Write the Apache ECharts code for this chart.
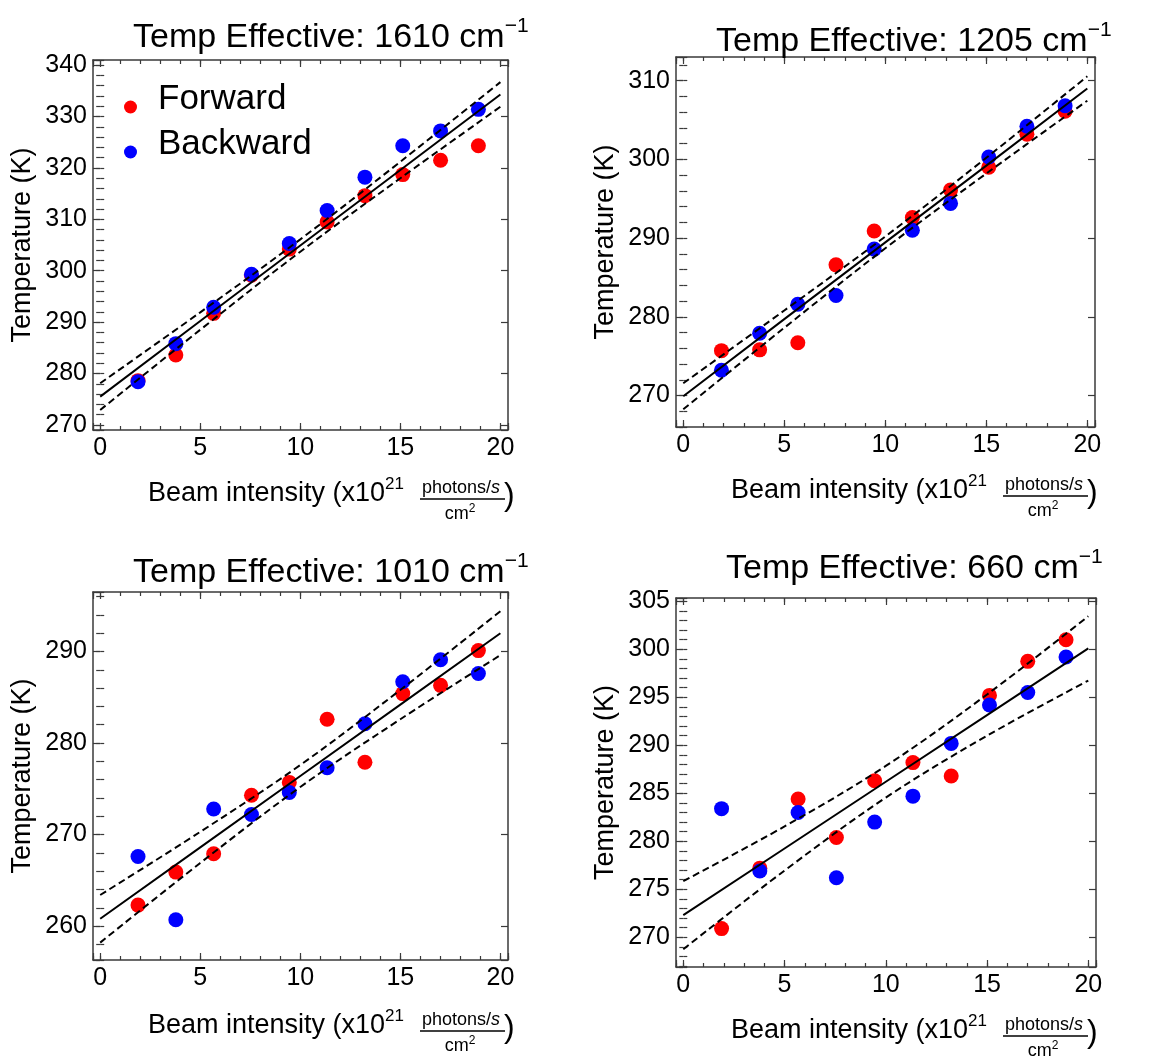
<!DOCTYPE html>
<html><head><meta charset="utf-8">
<script src="https://cdn.jsdelivr.net/npm/echarts/dist/echarts.min.js"></script>
<style>html,body{margin:0;padding:0;background:#fff}#chart{width:1155px;height:1057px}</style>
</head><body><div id="chart"></div>
<script>
// ---- data ----
const xValues = [1.89, 3.78, 5.67, 7.56, 9.45, 11.34, 13.23, 15.12, 17.01, 18.9];
const bandX = [0, 5, 10, 15, 20];
const xTicks = [0, 5, 10, 15, 20];

const fwd1610 = [278.6, 283.6, 291.7, 299.1, 304.2, 309.5, 314.6, 318.7, 321.5, 324.3];
const bwd1610 = [278.4, 285.8, 292.9, 299.3, 305.3, 311.7, 318.2, 324.3, 327.2, 331.4];
const fit1610 = [275.5, 290.2, 304.9, 319.6, 334.3];
const upper1610 = [278.1, 291.9, 306.1, 321.2, 336.7];
const lower1610 = [272.9, 288.5, 303.7, 318.0, 331.9];

const fwd1205 = [275.7, 275.8, 276.7, 286.6, 290.9, 292.6, 296.1, 299.0, 303.2, 306.1];
const bwd1205 = [273.2, 277.9, 281.6, 282.7, 288.6, 291.0, 294.4, 300.3, 304.2, 306.8];
const fit1205 = [269.9, 279.7, 289.45, 299.2, 309.0];
const upper1205 = [271.55, 280.8, 290.2, 300.2, 310.55];
const lower1205 = [268.25, 278.6, 288.7, 298.2, 307.45];

const fwd1010 = [262.3, 265.9, 267.9, 274.3, 275.7, 282.6, 277.9, 285.4, 286.3, 290.1];
const bwd1010 = [267.6, 260.7, 272.8, 272.2, 274.6, 277.3, 282.1, 286.7, 289.1, 287.6];
const fit1010 = [260.8, 268.6, 276.4, 284.2, 292.0];
const upper1010 = [263.4, 270.3, 277.6, 285.8, 294.4];
const lower1010 = [258.2, 266.9, 275.2, 282.6, 289.6];

const fwd660 = [270.9, 277.2, 284.4, 280.4, 286.3, 288.2, 286.8, 295.2, 298.75, 301.0];
const bwd660 = [283.4, 276.9, 283.0, 276.2, 282.0, 284.7, 290.2, 294.2, 295.5, 299.2];
const fit660 = [272.3, 279.25, 286.2, 293.15, 300.1];
const upper660 = [275.85, 281.55, 287.85, 295.3, 303.45];
const lower660 = [268.75, 276.95, 284.55, 291.0, 296.75];

const titles = ['1610', '1205', '1010', '660'];
const seriesNames = ['Forward', 'Backward'];

// ---- layout / style ----
const FONT = 'Liberation Sans, Arial, sans-serif';
const FRAME = '#3a3a3a';
const RED = '#ff0000', BLUE = '#0000ff';
const xRange = [-0.36, 20.38];

const panels = [
  {fwd: fwd1610, bwd: bwd1610, fit: fit1610, up: upper1610, lo: lower1610,
   grid: {left: 93, top: 60, width: 415, height: 370}, y: [269, 341], ySplit: 7, yMinorSplit: 36, yStep: 10,
   title: {left: 128, top: 11}, name: {x: 148, y: 494}},
  {fwd: fwd1205, bwd: bwd1205, fit: fit1205, up: upper1205, lo: lower1205,
   grid: {left: 676, top: 57, width: 419, height: 370}, y: [266, 313], ySplit: 5, yMinorSplit: 24, yStep: 10,
   title: {left: 711, top: 15}, name: {x: 731, y: 491}},
  {fwd: fwd1010, bwd: bwd1010, fit: fit1010, up: upper1010, lo: lower1010,
   grid: {left: 93, top: 592, width: 415, height: 368}, y: [256.3, 296.5], ySplit: 4, yMinorSplit: 20, yStep: 10,
   title: {left: 128, top: 546}, name: {x: 148, y: 1026}},
  {fwd: fwd660, bwd: bwd660, fit: fit660, up: upper660, lo: lower660,
   grid: {left: 676, top: 598, width: 420, height: 369}, y: [266.9, 305.35], ySplit: 8, yMinorSplit: 38, yStep: 5,
   title: {left: 721, top: 542}, name: {x: 731, y: 1031}}
];

function stepFmt(step) {
  return function (v) {
    const r = v / step;
    return Math.abs(r - Math.round(r)) < 1e-6 ? String(Math.round(v)) : '';
  };
}

const grids = [], xAxes = [], yAxes = [], series = [], titleList = [], graphics = [];

panels.forEach((p, i) => {
  grids.push(Object.assign({containLabel: false}, p.grid));
  const base = 4 * i;
  const xCommon = {gridIndex: i, type: 'value', min: xRange[0], max: xRange[1], splitLine: {show: false}};
  xAxes.push(Object.assign({}, xCommon, {position: 'bottom', splitNumber: 4,
    axisLine: {show: true, onZero: false, lineStyle: {color: FRAME, width: 1.5}},
    axisTick: {show: true, inside: true, length: 7, lineStyle: {color: FRAME, width: 1.2}},
    axisLabel: {show: true, fontSize: 25, fontFamily: FONT, color: '#000', margin: 6,
      formatter: stepFmt(5)}}));
  xAxes.push(Object.assign({}, xCommon, {position: 'bottom', splitNumber: 21,
    axisLine: {show: false}, axisLabel: {show: false},
    axisTick: {show: true, inside: true, length: 4, lineStyle: {color: FRAME, width: 1.2}}}));
  xAxes.push(Object.assign({}, xCommon, {position: 'top', splitNumber: 4,
    axisLine: {show: true, onZero: false, lineStyle: {color: FRAME, width: 1.5}},
    axisTick: {show: true, inside: true, length: 7, lineStyle: {color: FRAME, width: 1.2}},
    axisLabel: {show: false}}));
  xAxes.push(Object.assign({}, xCommon, {position: 'top', splitNumber: 21,
    axisLine: {show: false}, axisLabel: {show: false},
    axisTick: {show: true, inside: true, length: 4, lineStyle: {color: FRAME, width: 1.2}}}));
  const yCommon = {gridIndex: i, type: 'value', min: p.y[0], max: p.y[1], splitLine: {show: false}};
  yAxes.push(Object.assign({}, yCommon, {position: 'left', splitNumber: p.ySplit,
    axisLine: {show: true, onZero: false, lineStyle: {color: FRAME, width: 1.5}},
    axisTick: {show: true, inside: true, length: 7, lineStyle: {color: FRAME, width: 1.2}},
    axisLabel: {show: true, fontSize: 25, fontFamily: FONT, color: '#000', margin: 6,
      formatter: stepFmt(p.yStep)},
    name: 'Temperature (K)', nameLocation: 'middle', nameRotate: 90, nameGap: 57,
    nameTextStyle: {fontSize: 27, fontFamily: FONT, color: '#000'}}));
  yAxes.push(Object.assign({}, yCommon, {position: 'left', splitNumber: p.yMinorSplit,
    axisLine: {show: false}, axisLabel: {show: false},
    axisTick: {show: true, inside: true, length: 4, lineStyle: {color: FRAME, width: 1.2}}}));
  yAxes.push(Object.assign({}, yCommon, {position: 'right', splitNumber: p.ySplit,
    axisLine: {show: true, onZero: false, lineStyle: {color: FRAME, width: 1.5}},
    axisTick: {show: true, inside: true, length: 7, lineStyle: {color: FRAME, width: 1.2}},
    axisLabel: {show: false}}));
  yAxes.push(Object.assign({}, yCommon, {position: 'right', splitNumber: p.yMinorSplit,
    axisLine: {show: false}, axisLabel: {show: false},
    axisTick: {show: true, inside: true, length: 4, lineStyle: {color: FRAME, width: 1.2}}}));

  const scat = (name, vals, color) => ({
    type: 'scatter', name: name, xAxisIndex: base, yAxisIndex: base,
    data: xValues.map((x, k) => [x, vals[k]]), symbol: 'circle', symbolSize: 15,
    itemStyle: {color: color, opacity: 1}, z: 2, silent: true
  });
  series.push(scat(seriesNames[0], p.fwd, RED));
  series.push(scat(seriesNames[1], p.bwd, BLUE));
  const ln = (vals, dashed) => ({
    type: 'line', xAxisIndex: base, yAxisIndex: base,
    data: bandX.map((x, k) => [x, vals[k]]), symbol: 'none', showSymbol: false,
    smooth: dashed ? 0.35 : false, z: 3, silent: true,
    lineStyle: {color: '#000', width: 2, type: dashed ? [7, 4] : 'solid'}
  });
  series.push(ln(p.fit, false));
  series.push(ln(p.up, true));
  series.push(ln(p.lo, true));

  titleList.push({
    text: 'Temp Effective: ' + titles[i] + ' cm{sup|\u22121}',
    left: p.title.left, top: p.title.top,
    textStyle: {fontSize: 34, fontWeight: 'normal', fontFamily: FONT, color: '#000',
      rich: {sup: {fontSize: 21, fontFamily: FONT, color: '#000', padding: [0, 0, 22, 0]}}}
  });

  const nx = p.name.x, ny = p.name.y;
  graphics.push({type: 'text', x: nx, y: ny, silent: true, style: {
    text: 'Beam intensity (x10{sup|21}', fill: '#000', fontSize: 27, fontFamily: FONT,
    align: 'left', verticalAlign: 'middle', textAlign: 'left', textVerticalAlign: 'middle',
    rich: {sup: {fontSize: 17, fontFamily: FONT, fill: '#000', padding: [0, 0, 19, 0]}}}});
  graphics.push({type: 'text', x: nx + 313, y: ny - 6, silent: true, style: {
    text: 'photons/{i|s}', fill: '#000', fontSize: 18, fontFamily: FONT,
    align: 'center', verticalAlign: 'middle', textAlign: 'center', textVerticalAlign: 'middle',
    rich: {i: {fontStyle: 'italic', fontSize: 18, fontFamily: FONT, fill: '#000'}}}});
  graphics.push({type: 'line', silent: true, shape: {x1: nx + 272, y1: ny + 5, x2: nx + 357, y2: ny + 5},
    style: {stroke: '#000', lineWidth: 1.3}});
  graphics.push({type: 'text', x: nx + 312, y: ny + 20, silent: true, style: {
    text: 'cm{sup|2}', fill: '#000', fontSize: 18, fontFamily: FONT,
    align: 'center', verticalAlign: 'middle', textAlign: 'center', textVerticalAlign: 'middle',
    rich: {sup: {fontSize: 12, fontFamily: FONT, fill: '#000', padding: [0, 0, 10, 0]}}}});
  graphics.push({type: 'text', x: nx + 356, y: ny + 2, silent: true, style: {
    text: ')', fill: '#000', fontSize: 32, fontFamily: FONT,
    align: 'left', verticalAlign: 'middle', textAlign: 'left', textVerticalAlign: 'middle'}});
});

const chart = echarts.init(document.getElementById('chart'), null, {renderer: 'canvas'});
chart.setOption({
  backgroundColor: '#fff',
  animation: false,
  textStyle: {fontFamily: FONT},
  title: titleList,
  legend: {
    data: seriesNames, orient: 'vertical', left: 119, top: 77,
    icon: 'circle', itemWidth: 13, itemHeight: 13, itemGap: -5, selectedMode: false,
    formatter: '{n|{name}}',
    textStyle: {fontSize: 35, fontFamily: FONT, color: '#000',
      rich: {n: {fontSize: 35, fontFamily: FONT, color: '#000', lineHeight: 24, padding: [0, 0, 15, 16]}}}
  },
  grid: grids,
  xAxis: xAxes,
  yAxis: yAxes,
  series: series,
  graphic: graphics
});
</script></body></html>
